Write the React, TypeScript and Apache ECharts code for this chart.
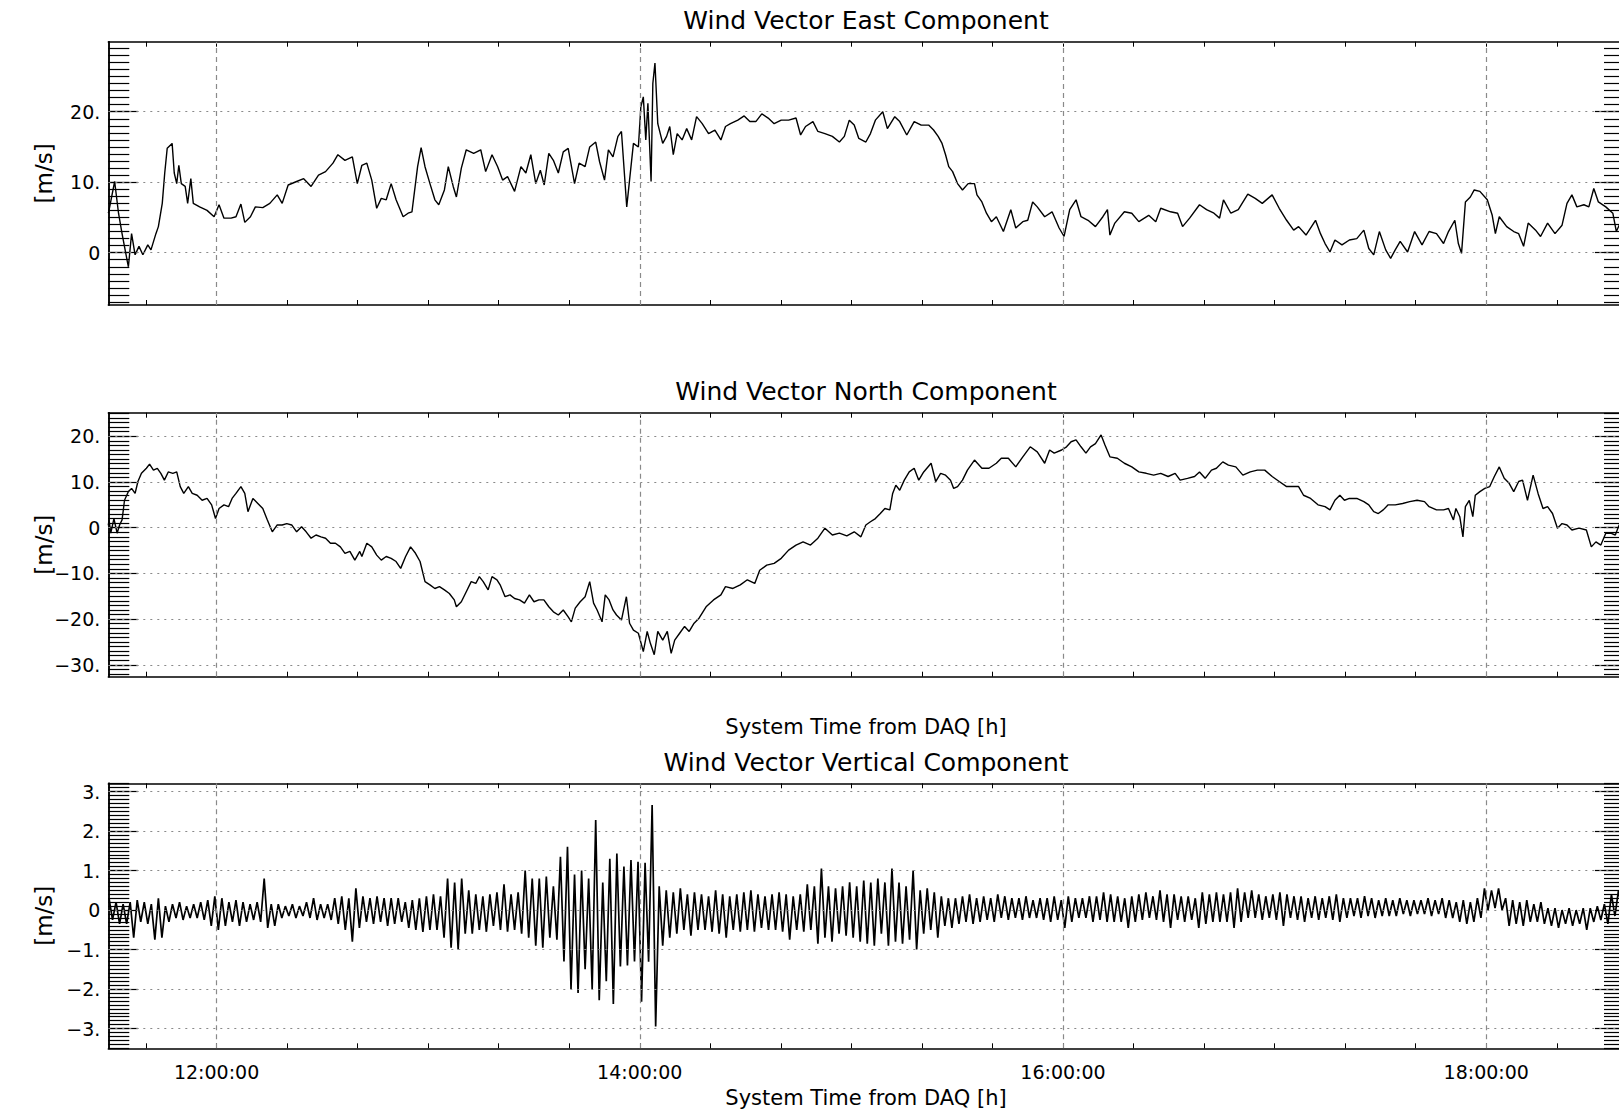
import React, { useEffect, useRef } from "react";
import * as echarts from "echarts";

// time values are minutes after 11:00
const timeMin = 29.3;
const timeMax = 459.35;
const majorTimes = [60, 180, 300, 420];
const timeLabels = ["12:00:00", "14:00:00", "16:00:00", "18:00:00"];
const minorTimes = [40, 60, 80, 100, 120, 140, 160, 180, 200, 220, 240, 260, 280, 300, 320, 340, 360, 380, 400, 420, 440];

const eastRange = [-7.42, 29.93];
const eastMajors = [0, 10, 20];
const eastLabels = ["0", "10.", "20."];

const northRange = [-32.6, 25.16];
const northMajors = [-30, -20, -10, 0, 10, 20];
const northLabels = ["\u221230.", "\u221220.", "\u221210.", "0", "10.", "20."];

const vertRange = [-3.5, 3.21];
const vertMajors = [-3, -2, -1, 0, 1, 2, 3];
const vertLabels = ["\u22123.", "\u22122.", "\u22121.", "0", "1.", "2.", "3."];

const eastPoints = [
  [29.3, 5.6], [29.5, 6.0], [31.1, 10.1], [32.2, 5.6], [33.2, 2.7], [34.6, -1.0], [35.0, -2.0], [35.9, 2.7], [36.9, -0.3], [38.0, 0.9],
  [39.1, -0.3], [40.5, 1.1], [41.4, 0.4], [42.8, 2.7], [43.5, 3.7], [44.6, 7.0], [45.3, 11.3], [46.0, 14.8], [47.4, 15.5], [48.0, 11.3],
  [48.7, 9.8], [49.3, 12.4], [50.0, 9.8], [51.1, 9.4], [51.8, 7.0], [52.7, 10.5], [53.4, 7.0], [55.2, 6.5], [57.3, 6.0], [59.3, 5.1],
  [60.7, 6.8], [62.1, 4.9], [64.1, 4.9], [65.5, 5.1], [66.9, 6.9], [68.0, 4.3], [69.6, 5.1], [71.0, 6.5], [73.1, 6.4], [75.1, 7.0],
  [77.2, 8.2], [78.6, 7.0], [80.3, 9.6], [82.7, 10.1], [84.7, 10.5], [86.8, 9.4], [88.9, 11.0], [90.9, 11.5], [93.0, 12.7], [94.4, 13.9],
  [96.4, 13.1], [98.5, 13.6], [99.9, 9.8], [101.2, 12.4], [102.6, 12.7], [104.0, 10.3], [105.4, 6.3], [106.7, 7.7], [108.1, 7.5], [109.5, 9.8],
  [110.9, 7.5], [112.9, 5.1], [114.3, 5.6], [115.4, 5.8], [117.0, 12.2], [118.0, 14.9], [119.1, 12.2], [120.5, 9.8], [121.9, 7.5], [123.0, 6.8],
  [124.6, 8.9], [125.7, 12.2], [127.1, 9.4], [128.0, 7.9], [129.4, 12.0], [130.8, 14.6], [132.9, 14.1], [134.9, 14.6], [136.3, 11.5], [138.1, 13.9],
  [139.7, 12.2], [141.1, 10.3], [142.5, 10.8], [144.5, 8.7], [146.3, 12.2], [147.7, 11.3], [149.1, 13.9], [150.5, 9.8], [151.8, 11.7], [152.9, 9.6],
  [154.2, 14.1], [155.5, 13.1], [156.9, 11.3], [158.3, 14.3], [159.7, 14.8], [161.5, 9.8], [162.8, 12.7], [164.5, 12.2], [165.8, 15.0], [167.5, 15.7],
  [168.6, 12.9], [170.0, 10.3], [171.1, 14.6], [172.4, 13.6], [173.8, 16.5], [174.8, 17.2], [175.5, 12.2], [176.3, 6.5], [177.1, 10.3], [178.2, 15.5],
  [179.6, 15.0], [180.3, 20.7], [181.0, 22.1], [181.7, 16.0], [182.3, 21.2], [183.2, 10.1], [183.7, 24.0], [184.3, 26.9], [185.1, 18.3], [186.5, 15.5],
  [187.6, 16.5], [188.5, 17.9], [189.5, 13.9], [190.6, 16.9], [192.0, 16.0], [193.3, 17.6], [194.7, 16.0], [196.1, 19.3], [197.7, 18.3], [199.5, 16.9],
  [201.3, 17.4], [203.0, 16.0], [204.3, 17.9], [205.7, 18.3], [207.8, 18.8], [209.6, 19.4], [211.2, 18.6], [212.9, 18.6], [214.6, 19.7], [216.4, 19.1],
  [218.1, 18.3], [220.1, 18.8], [222.2, 18.8], [224.3, 19.1], [225.6, 16.7], [227.0, 17.9], [229.1, 18.6], [230.5, 17.2], [232.5, 16.9], [234.6, 16.5],
  [236.6, 15.7], [238.0, 16.5], [239.4, 18.8], [240.8, 18.1], [242.1, 16.2], [244.1, 15.7], [245.4, 16.9], [246.8, 18.8], [248.9, 20.0], [250.2, 17.6],
  [252.3, 19.3], [253.7, 18.6], [255.7, 16.7], [257.8, 18.6], [259.8, 18.1], [261.9, 18.1], [263.3, 17.4], [264.6, 16.5], [265.7, 15.5], [266.7, 13.9],
  [267.6, 12.2], [268.7, 11.5], [270.1, 9.8], [271.5, 8.9], [273.1, 9.8], [274.9, 9.8], [275.6, 8.2], [277.0, 7.2], [278.3, 5.6], [279.7, 4.4],
  [281.1, 5.1], [283.1, 3.0], [285.2, 6.1], [286.6, 3.5], [288.6, 4.4], [290.0, 4.6], [291.4, 7.2], [292.7, 6.5], [294.8, 5.1], [296.9, 5.8],
  [298.9, 3.5], [300.3, 2.3], [301.9, 6.1], [303.7, 7.5], [305.1, 5.1], [307.1, 4.6], [309.2, 3.7], [311.3, 5.1], [312.6, 6.1], [313.3, 2.5],
  [314.7, 4.2], [317.4, 5.8], [319.5, 5.6], [321.5, 4.4], [324.3, 5.3], [326.3, 4.4], [327.7, 6.3], [330.5, 5.8], [332.5, 5.6], [333.9, 3.7],
  [335.9, 4.9], [338.7, 6.8], [340.7, 6.1], [342.8, 5.6], [344.4, 4.9], [345.5, 7.5], [347.6, 5.6], [349.7, 6.1], [352.4, 8.3], [354.5, 7.7],
  [356.5, 7.0], [359.3, 8.2], [361.3, 6.3], [363.4, 4.6], [365.4, 3.2], [366.8, 3.7], [368.9, 2.5], [371.6, 4.6], [373.0, 2.7], [374.3, 1.3],
  [375.7, 0.1], [377.1, 1.8], [379.1, 1.1], [381.2, 1.8], [383.3, 2.0], [385.3, 3.2], [386.7, 0.6], [388.1, -0.3], [389.7, 3.0], [391.5, 0.4],
  [392.9, -0.8], [394.2, 0.4], [395.6, 1.6], [397.7, 0.1], [399.7, 3.0], [401.8, 1.1], [403.8, 3.0], [405.9, 2.7], [407.9, 1.3], [409.3, 3.0],
  [411.1, 4.6], [412.1, 1.3], [413.0, -0.1], [414.1, 7.2], [415.5, 7.9], [416.6, 8.9], [418.2, 8.7], [420.3, 7.5], [421.7, 5.3], [422.6, 2.7],
  [423.7, 5.1], [425.8, 3.7], [427.8, 3.0], [429.2, 2.7], [430.6, 0.9], [431.9, 4.2], [434.0, 3.2], [435.4, 2.3], [437.4, 4.2], [439.5, 2.7],
  [441.5, 3.9], [442.9, 7.0], [444.3, 8.2], [445.7, 6.5], [447.7, 6.8], [449.1, 6.5], [450.5, 9.1], [451.8, 7.2], [453.9, 6.5], [455.9, 5.6],
  [456.9, 3.0], [457.7, 3.9], [459.3, 3.5],
];

const northPoints = [
  [29.3, 0.5], [29.5, 1.7], [30.0, -1.2], [30.9, 2.0], [31.8, -1.2], [32.5, 0.6], [33.2, 1.7], [33.9, 6.0], [35.0, 7.9], [35.9, 8.6],
  [36.9, 7.5], [37.7, 10.1], [38.7, 11.9], [40.1, 13.0], [41.0, 13.9], [42.1, 12.6], [43.2, 13.0], [44.2, 11.9], [45.2, 10.4], [46.3, 12.2],
  [47.6, 11.9], [48.7, 12.2], [49.7, 9.0], [50.7, 7.5], [52.0, 9.0], [53.1, 7.5], [54.5, 7.1], [55.9, 6.0], [57.3, 6.4], [58.6, 5.0],
  [59.7, 2.0], [60.7, 4.2], [62.1, 5.0], [63.4, 4.6], [64.4, 6.4], [65.5, 7.5], [66.9, 9.0], [68.0, 7.5], [68.9, 3.5], [70.3, 6.4],
  [71.7, 5.3], [73.1, 4.2], [74.4, 1.7], [75.8, -0.9], [77.2, 0.6], [78.6, 0.6], [79.9, 0.9], [81.3, 0.6], [82.7, -0.9], [84.1, 0.2],
  [85.4, -0.9], [86.8, -2.3], [88.2, -1.6], [89.6, -2.0], [90.9, -2.3], [92.3, -3.4], [93.7, -3.4], [95.1, -4.2], [96.4, -5.6], [97.8, -5.2],
  [99.2, -7.1], [100.6, -5.2], [101.2, -6.3], [102.6, -3.4], [104.0, -4.2], [105.4, -6.0], [106.7, -7.1], [108.1, -6.3], [109.5, -6.7], [110.9, -7.4],
  [112.2, -8.9], [113.6, -6.3], [115.0, -4.2], [116.4, -5.6], [117.7, -7.4], [119.1, -11.8], [120.5, -12.5], [121.9, -13.3], [123.2, -12.9], [124.6, -13.6],
  [126.0, -14.4], [127.4, -15.8], [128.0, -17.3], [129.4, -16.2], [130.8, -14.0], [132.2, -11.8], [133.5, -12.2], [134.5, -10.7], [135.6, -11.8], [137.0, -13.6],
  [138.1, -10.7], [139.5, -11.4], [140.4, -12.5], [141.8, -15.1], [143.2, -14.7], [144.5, -15.5], [145.9, -15.8], [147.3, -16.5], [148.7, -14.7], [150.0, -16.2],
  [151.4, -15.8], [152.8, -15.8], [154.2, -17.3], [155.5, -18.4], [156.9, -19.1], [158.3, -18.0], [159.7, -19.5], [160.6, -20.6], [161.7, -17.6], [163.1, -16.2],
  [164.5, -15.1], [165.8, -11.8], [166.9, -16.5], [167.9, -18.0], [169.3, -20.6], [170.2, -14.7], [171.3, -15.8], [172.4, -18.0], [173.4, -19.1], [174.8, -20.2],
  [176.2, -15.1], [177.1, -20.9], [178.2, -22.4], [179.6, -23.1], [181.0, -27.1], [182.1, -22.7], [183.0, -25.3], [184.1, -27.8], [185.1, -22.7], [186.5, -24.6],
  [187.8, -22.7], [188.9, -27.5], [189.9, -24.6], [191.3, -23.1], [192.7, -21.6], [194.0, -22.7], [195.4, -20.9], [196.8, -19.8], [198.8, -17.3], [200.9, -15.8],
  [203.0, -14.7], [204.3, -12.9], [206.4, -13.3], [208.5, -12.5], [210.5, -11.4], [212.6, -12.2], [214.0, -9.3], [216.0, -8.2], [218.1, -7.8], [220.1, -6.7],
  [222.2, -4.9], [224.3, -3.8], [226.3, -3.1], [228.4, -3.8], [230.5, -2.3], [232.5, -0.1], [234.6, -1.6], [236.6, -1.2], [238.7, -1.8], [240.8, -0.9],
  [242.7, -2.0], [244.1, 0.6], [245.4, 1.3], [246.8, 2.0], [248.2, 3.1], [249.5, 4.2], [250.9, 3.9], [251.7, 7.5], [252.6, 9.3], [253.7, 8.2],
  [255.0, 10.4], [256.4, 12.2], [257.8, 13.0], [259.1, 10.4], [260.5, 12.2], [262.6, 14.1], [263.9, 10.1], [265.3, 11.9], [266.7, 11.5], [268.1, 10.4],
  [269.0, 8.6], [270.1, 9.0], [271.5, 10.4], [272.9, 12.6], [274.9, 14.8], [277.0, 13.0], [279.0, 13.0], [281.1, 14.1], [282.5, 15.2], [284.5, 15.2],
  [286.6, 13.3], [288.6, 15.5], [290.7, 17.7], [292.7, 16.6], [294.8, 14.1], [296.2, 17.0], [297.5, 16.3], [299.6, 17.0], [301.0, 17.7], [302.3, 18.8],
  [303.7, 19.2], [305.1, 17.7], [306.5, 16.3], [307.8, 17.7], [309.2, 18.4], [310.8, 20.3], [311.9, 18.1], [313.3, 15.5], [315.4, 15.2], [317.4, 14.1],
  [319.5, 13.3], [321.5, 12.2], [323.6, 11.9], [325.7, 11.5], [327.7, 11.9], [329.8, 11.2], [331.8, 11.9], [333.2, 10.4], [335.3, 10.8], [337.3, 11.2],
  [338.7, 12.2], [340.3, 10.8], [342.1, 12.6], [343.5, 13.0], [345.3, 14.4], [346.9, 13.7], [349.0, 13.3], [351.0, 11.5], [353.1, 12.2], [355.1, 12.6],
  [357.2, 12.6], [359.3, 11.2], [361.3, 10.1], [363.4, 9.0], [365.4, 9.0], [366.8, 9.0], [368.2, 7.1], [370.2, 6.4], [372.3, 5.0], [374.3, 4.6],
  [375.7, 3.9], [377.1, 6.0], [378.5, 7.1], [379.8, 6.0], [381.2, 6.4], [383.3, 6.4], [385.3, 5.7], [386.7, 5.0], [388.1, 3.5], [389.4, 3.1],
  [390.8, 3.9], [392.2, 5.0], [394.2, 5.0], [396.3, 5.3], [398.3, 5.7], [400.4, 6.0], [402.5, 5.7], [403.8, 4.6], [405.9, 3.9], [407.9, 3.9],
  [409.3, 4.2], [410.7, 1.7], [411.4, 4.2], [412.5, 2.4], [413.4, -2.0], [414.1, 4.6], [415.2, 6.0], [416.2, 2.4], [416.9, 7.1], [418.2, 7.9],
  [419.6, 8.6], [421.0, 9.0], [422.3, 11.2], [423.7, 13.3], [425.1, 10.8], [426.5, 9.7], [427.8, 7.9], [429.2, 10.1], [430.3, 10.4], [431.7, 6.0],
  [433.3, 11.5], [434.7, 7.5], [436.1, 4.2], [437.4, 4.6], [438.8, 3.1], [440.2, -0.1], [441.5, 0.9], [442.9, 0.6], [444.3, -0.5], [446.3, -0.1],
  [448.4, -0.5], [449.8, -4.2], [451.1, -3.1], [452.5, -3.8], [453.9, -1.2], [455.3, -1.2], [456.6, -1.6], [457.7, 0.6], [459.3, 0.8],
];

// vertical component: per 2-minute bin, upper and lower extent of the trace
const vertStart = 29.5;
const vertStep = 2;
const vertHi = [
  0.3, 0.2, 0.15, 0.2, 0.25, 0.2, 0.15, 0.3, 0.1, 0.15,
  0.2, 0.1, 0.15, 0.2, 0.25, 0.35, 0.3, 0.2, 0.25, 0.2,
  0.15, 0.2, 0.8, 0.15, 0.15, 0.1, 0.15, 0.1, 0.2, 0.3,
  0.15, 0.15, 0.3, 0.35, 0.3, 0.55, 0.35, 0.3, 0.35, 0.3,
  0.3, 0.3, 0.2, 0.25, 0.3, 0.35, 0.4, 0.35, 0.8, 0.7,
  0.8, 0.5, 0.4, 0.35, 0.4, 0.45, 0.65, 0.4, 0.45, 1.0,
  0.8, 0.8, 0.85, 0.6, 1.35, 1.6, 0.9, 1.0, 0.8, 2.28,
  0.7, 1.3, 1.43, 1.1, 1.27, 1.22, 1.2, 2.66, 0.6, 0.5,
  0.45, 0.55, 0.4, 0.45, 0.4, 0.35, 0.5, 0.4, 0.35, 0.4,
  0.45, 0.5, 0.4, 0.35, 0.4, 0.45, 0.4, 0.35, 0.4, 0.65,
  0.6, 1.05, 0.6, 0.55, 0.6, 0.7, 0.6, 0.75, 0.7, 0.8,
  0.7, 1.05, 0.7, 0.6, 1.0, 0.5, 0.55, 0.45, 0.35, 0.3,
  0.3, 0.35, 0.4, 0.3, 0.35, 0.3, 0.4, 0.35, 0.3, 0.3,
  0.35, 0.25, 0.3, 0.3, 0.35, 0.25, 0.35, 0.3, 0.3, 0.35,
  0.35, 0.45, 0.4, 0.35, 0.3, 0.35, 0.4, 0.45, 0.35, 0.5,
  0.4, 0.4, 0.35, 0.35, 0.3, 0.45, 0.4, 0.45, 0.4, 0.45,
  0.55, 0.45, 0.5, 0.4, 0.35, 0.4, 0.45, 0.4, 0.35, 0.35,
  0.3, 0.35, 0.3, 0.35, 0.4, 0.3, 0.3, 0.3, 0.35, 0.3,
  0.25, 0.3, 0.25, 0.3, 0.25, 0.25, 0.25, 0.3, 0.25, 0.3,
  0.25, 0.2, 0.25, 0.2, 0.3, 0.55, 0.5, 0.55, 0.3, 0.25,
  0.2, 0.25, 0.15, 0.2, 0.05, 0.05, 0.0, 0.05, 0.0, 0.05,
  0.05, 0.1, 0.15, 0.4, 0.5,
];
const vertLo = [
  -0.25, -0.35, -0.35, -0.7, -0.3, -0.35, -0.75, -0.7, -0.3, -0.2,
  -0.25, -0.2, -0.2, -0.25, -0.4, -0.5, -0.4, -0.3, -0.4, -0.3,
  -0.25, -0.3, -0.45, -0.4, -0.2, -0.15, -0.2, -0.15, -0.2, -0.25,
  -0.2, -0.25, -0.35, -0.5, -0.8, -0.45, -0.3, -0.35, -0.3, -0.4,
  -0.35, -0.3, -0.45, -0.5, -0.55, -0.5, -0.5, -0.7, -0.95, -1.0,
  -0.6, -0.6, -0.5, -0.55, -0.4, -0.5, -0.55, -0.5, -0.6, -0.7,
  -0.9, -0.95, -0.7, -0.75, -1.3, -2.0, -2.1, -1.5, -2.0, -2.28,
  -1.8, -2.38, -1.43, -1.4, -1.3, -2.32, -1.31, -2.95, -0.9, -0.7,
  -0.6, -0.5, -0.65, -0.5, -0.5, -0.55, -0.6, -0.7, -0.5, -0.55,
  -0.5, -0.55, -0.45, -0.5, -0.5, -0.55, -0.75, -0.5, -0.55, -0.5,
  -0.85, -0.7, -0.8, -0.6, -0.65, -0.7, -0.8, -0.85, -0.9, -0.6,
  -0.9, -0.8, -0.85, -0.75, -1.0, -0.6, -0.5, -0.7, -0.4, -0.45,
  -0.35, -0.3, -0.35, -0.3, -0.25, -0.3, -0.2, -0.25, -0.2, -0.25,
  -0.2, -0.2, -0.25, -0.3, -0.25, -0.45, -0.3, -0.2, -0.2, -0.3,
  -0.25, -0.3, -0.3, -0.3, -0.45, -0.3, -0.25, -0.2, -0.25, -0.3,
  -0.45, -0.25, -0.3, -0.25, -0.45, -0.35, -0.3, -0.3, -0.3, -0.45,
  -0.3, -0.2, -0.2, -0.25, -0.2, -0.25, -0.4, -0.2, -0.25, -0.3,
  -0.2, -0.25, -0.2, -0.25, -0.3, -0.2, -0.15, -0.2, -0.15, -0.2,
  -0.15, -0.15, -0.15, -0.1, -0.15, -0.1, -0.1, -0.15, -0.1, -0.2,
  -0.2, -0.3, -0.35, -0.3, -0.2, 0.0, 0.05, 0.0, -0.4, -0.35,
  -0.4, -0.3, -0.3, -0.35, -0.4, -0.45, -0.35, -0.4, -0.35, -0.5,
  -0.3, -0.25, -0.35, -0.15, 0.0,
];

const FONT = "DejaVu Sans";

function buildVertSeries() {
  const out: number[][] = [];
  vertHi.forEach((hi, k) => {
    const t = vertStart + k * vertStep;
    out.push([t, hi]);
    out.push([t + vertStep / 2, vertLo[k]]);
  });
  return out;
}

function rangeTicks(lo: number, hi: number, step: number) {
  const out: number[] = [];
  const a = Math.ceil(lo / step - 1e-9);
  const b = Math.floor(hi / step + 1e-9);
  for (let i = a; i <= b; i++) out.push(Math.round(i * step * 1000) / 1000);
  return out;
}

export default function App() {
  const ref = useRef<HTMLDivElement>(null);

  useEffect(() => {
    document.body.style.margin = "0";
    if (!ref.current) return;
    const chart = echarts.init(ref.current, null, { renderer: "svg" });

    const plotLeft = 108.3;
    const plotWidth = 1516.7;
    const panels = [
      { title: "Wind Vector East Component", top: 41.7, height: 263.3, range: eastRange, majors: eastMajors, labels: eastLabels, minorStep: 1, data: eastPoints, timeLabels: false, xName: false, lw: 1.4 },
      { title: "Wind Vector North Component", top: 412.7, height: 264, range: northRange, majors: northMajors, labels: northLabels, minorStep: 1, data: northPoints, timeLabels: false, xName: true, lw: 1.4 },
      { title: "Wind Vector Vertical Component", top: 783.3, height: 265, range: vertRange, majors: vertMajors, labels: vertLabels, minorStep: 0.1, data: buildVertSeries(), timeLabels: true, xName: true, lw: 1.7 },
    ];

    const grid: any[] = [];
    const xAxis: any[] = [];
    const yAxis: any[] = [];
    const series: any[] = [];
    const graphic: any[] = [];
    const black = "#000";

    panels.forEach((p, i) => {
      grid.push({ left: plotLeft, width: plotWidth, top: p.top, height: p.height, outerBoundsMode: "none" });
      const xBase = {
        type: "value",
        gridIndex: i,
        min: timeMin,
        max: timeMax,
        axisLine: { show: true, onZero: false, lineStyle: { color: black, width: 1.5 } },
        axisTick: { show: true, inside: true, length: 5, customValues: minorTimes, lineStyle: { color: black, width: 1 } },
        splitLine: { show: false },
      };
      xAxis.push({
        ...xBase,
        position: "bottom",
        axisLabel: {
          show: p.timeLabels,
          customValues: majorTimes,
          formatter: (v: number) => timeLabels[majorTimes.indexOf(v)] ?? "",
          margin: 14,
          color: black,
          fontSize: 19,
          fontFamily: FONT,
        },
      });
      xAxis.push({ ...xBase, position: "top", axisLabel: { show: false } });

      const minors = rangeTicks(p.range[0], p.range[1], p.minorStep);
      const yBase = {
        type: "value",
        gridIndex: i,
        min: p.range[0],
        max: p.range[1],
        axisLine: { show: true, onZero: false, lineStyle: { color: black, width: 1.5 } },
        splitLine: { show: false },
      };
      yAxis.push({
        ...yBase,
        position: "left",
        axisTick: { show: true, inside: true, length: 30, customValues: p.majors, lineStyle: { color: black, width: 1.2 } },
        axisLabel: {
          show: true,
          customValues: p.majors,
          formatter: (v: number) => p.labels[p.majors.indexOf(v)] ?? "",
          margin: 8,
          color: black,
          fontSize: 19,
          fontFamily: FONT,
        },
      });
      yAxis.push({
        ...yBase,
        position: "left",
        axisTick: { show: true, inside: true, length: 21, customValues: minors, lineStyle: { color: black, width: 1.2 } },
        axisLabel: { show: false },
      });
      yAxis.push({
        ...yBase,
        position: "right",
        axisTick: { show: true, inside: true, length: 30, customValues: p.majors, lineStyle: { color: black, width: 1.2 } },
        axisLabel: { show: false },
      });
      yAxis.push({
        ...yBase,
        position: "right",
        axisTick: { show: true, inside: true, length: 21, customValues: minors, lineStyle: { color: black, width: 1.2 } },
        axisLabel: { show: false },
      });

      series.push({
        type: "line",
        xAxisIndex: 2 * i,
        yAxisIndex: 4 * i,
        data: p.data,
        showSymbol: false,
        symbol: "none",
        clip: true,
        lineStyle: { color: black, width: p.lw },
        z: 3,
        markLine: {
          silent: true,
          symbol: ["none", "none"],
          label: { show: false },
          animation: false,
          data: [
            ...p.majors.map((v) => ({ yAxis: v, lineStyle: { type: [2, 5], color: "#8a8a8a", width: 1.2 } })),
            ...majorTimes.map((t) => ({ xAxis: t, lineStyle: { type: [5, 4], color: "#8a8a8a", width: 1.2 } })),
          ],
        },
      });

      graphic.push({
        type: "text",
        x: 866,
        y: p.top - 21,
        style: { text: p.title, fill: black, fontSize: 25, fontFamily: FONT, align: "center", verticalAlign: "middle" },
      });
      graphic.push({
        type: "text",
        x: 44,
        y: p.top + p.height / 2,
        rotation: Math.PI / 2,
        style: { text: "[m/s]", fill: black, fontSize: 23, fontFamily: FONT, align: "center", verticalAlign: "middle" },
      });
      if (p.xName) {
        graphic.push({
          type: "text",
          x: 866,
          y: p.top + p.height + 50,
          style: { text: "System Time from DAQ [h]", fill: black, fontSize: 21, fontFamily: FONT, align: "center", verticalAlign: "middle" },
        });
      }
    });

    chart.setOption({
      animation: false,
      backgroundColor: "#fff",
      textStyle: { fontFamily: FONT },
      grid,
      xAxis,
      yAxis,
      series,
      graphic,
    });

    return () => chart.dispose();
  }, []);

  return <div ref={ref} style={{ width: 1619, height: 1114 }} />;
}
